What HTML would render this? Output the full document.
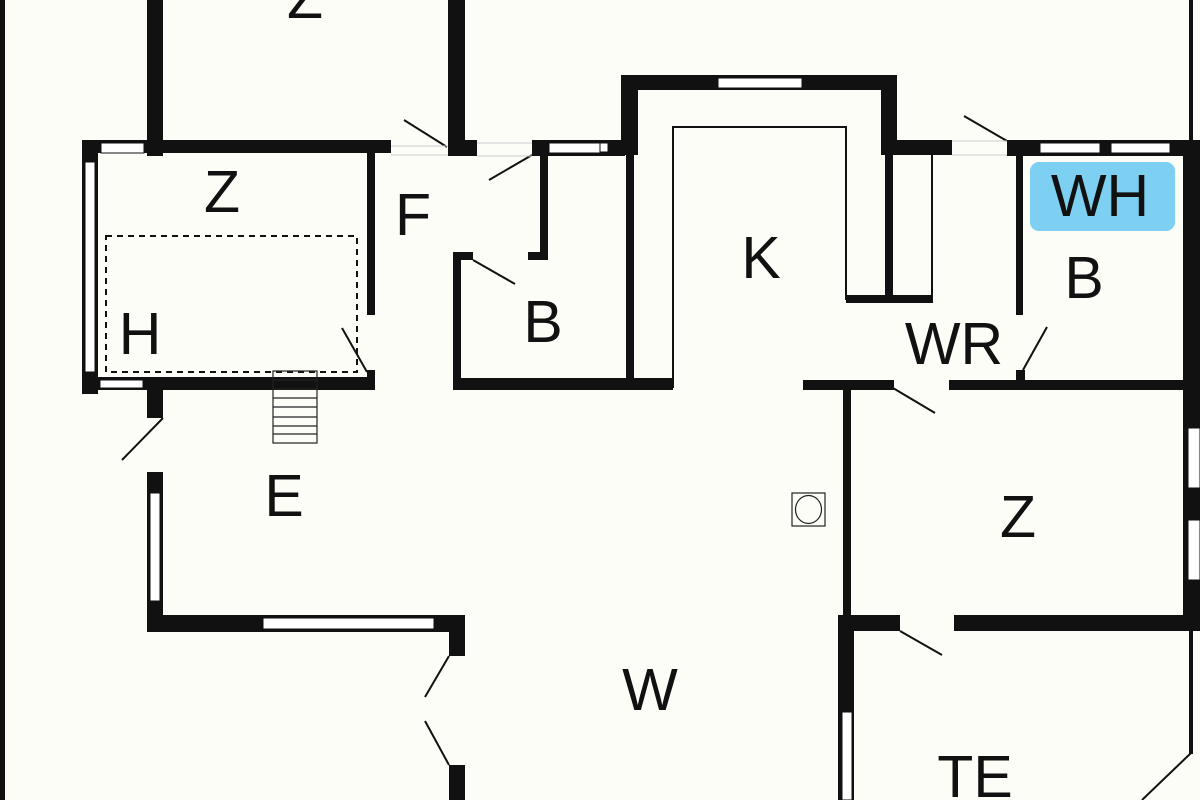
<!DOCTYPE html>
<html><head><meta charset="utf-8"><style>
html,body{margin:0;padding:0;background:#fdfdf8;}
svg{display:block;}
text{font-family:"Liberation Sans",sans-serif;font-size:59px;fill:#111;text-anchor:middle;}
</style></head><body>
<svg width="1200" height="800" viewBox="0 0 1200 800" xmlns="http://www.w3.org/2000/svg">
<rect width="1200" height="800" fill="#fdfdf8"/>
<g fill="#111">
<!-- left border -->
<rect x="0" y="0" width="5" height="800"/>
<!-- top Z room -->
<rect x="147" y="0" width="16" height="156"/>
<rect x="448" y="0" width="17" height="156"/>
<rect x="448" y="140" width="29" height="16"/>
<!-- lower Z box -->
<rect x="82" y="140" width="309" height="13"/>
<rect x="82" y="140" width="16" height="254"/>
<rect x="367" y="150" width="8" height="165"/>
<rect x="367" y="370" width="8" height="20"/>
<rect x="82" y="377" width="293" height="13"/>
<rect x="147" y="377" width="16" height="41"/>
<!-- E west wall -->
<rect x="147" y="472" width="16" height="160"/>
<rect x="147" y="615" width="318" height="17"/>
<rect x="449" y="615" width="16" height="41"/>
<rect x="449" y="765" width="16" height="35"/>
<!-- F/B walls -->
<rect x="532" y="140" width="93" height="16"/>
<rect x="540" y="140" width="8" height="120"/>
<rect x="528" y="252" width="20" height="8"/>
<rect x="453" y="252" width="8" height="138"/>
<rect x="453" y="252" width="20" height="8"/>
<rect x="453" y="378" width="220" height="12"/>
<!-- K -->
<rect x="600" y="140" width="38" height="15"/>
<rect x="621" y="75" width="276" height="15"/>
<rect x="621" y="75" width="17" height="80"/>
<rect x="626" y="150" width="8" height="240"/>
<rect x="881" y="75" width="16" height="80"/>
<rect x="881" y="140" width="71" height="15"/>
<rect x="885" y="150" width="8" height="150"/>
<rect x="846" y="295" width="87" height="8"/>
<!-- WH/B -->
<rect x="1007" y="140" width="193" height="16"/>
<rect x="1016" y="148" width="7" height="167"/>
<rect x="1016" y="370" width="9" height="15"/>
<rect x="1183" y="140" width="17" height="491"/>
<rect x="1189" y="0" width="4" height="140"/>
<!-- WR bottom wall -->
<rect x="803" y="380" width="91" height="10"/>
<rect x="949" y="380" width="251" height="10"/>
<rect x="843" y="385" width="8" height="245"/>
<rect x="838" y="615" width="62" height="16"/>
<rect x="954" y="615" width="246" height="16"/>
<rect x="838" y="615" width="16" height="185"/>
<rect x="1189" y="630" width="4" height="124"/>
</g>
<!-- windows -->
<g fill="#fff" stroke="#111" stroke-width="1">
<rect x="101" y="143" width="43" height="10"/>
<rect x="85" y="162" width="10" height="210"/>
<rect x="100" y="380" width="43" height="8"/>
<rect x="150" y="493" width="10" height="108"/>
<rect x="263" y="618" width="171" height="11"/>
<rect x="718" y="78" width="84" height="10"/>
<rect x="549" y="143" width="60" height="10"/>
<rect x="600" y="143" width="8" height="9"/>
<rect x="1040" y="143" width="60" height="10"/>
<rect x="1111" y="143" width="59" height="10"/>
<rect x="1188" y="428" width="12" height="60"/>
<rect x="1188" y="520" width="12" height="60"/>
<rect x="842" y="712" width="10" height="88"/>
</g>
<!-- thin lines -->
<g fill="none" stroke="#111" stroke-width="2">
<polyline points="673,388 673,127 846,127 846,300"/>
<line x1="932" y1="155" x2="932" y2="300"/>
<line x1="1191" y1="753" x2="1142" y2="800"/>
<line x1="404" y1="120" x2="447" y2="147"/>
<line x1="489" y1="180" x2="532" y2="155"/>
<line x1="473" y1="260" x2="515" y2="284"/>
<line x1="342" y1="328" x2="367" y2="372"/>
<line x1="163" y1="418" x2="122" y2="460"/>
<line x1="449" y1="656" x2="425" y2="697"/>
<line x1="425" y1="721" x2="449" y2="765"/>
<line x1="964" y1="116" x2="1007" y2="141"/>
<line x1="1023" y1="370" x2="1047" y2="327"/>
<line x1="893" y1="388" x2="935" y2="413"/>
<line x1="900" y1="631" x2="942" y2="655"/>
</g>
<g stroke="#ccc" stroke-width="1">
<line x1="391" y1="146" x2="448" y2="146"/><line x1="391" y1="155" x2="448" y2="155"/>
<line x1="477" y1="143" x2="532" y2="143"/><line x1="477" y1="156" x2="532" y2="156"/>
<line x1="952" y1="141" x2="1007" y2="141"/><line x1="952" y1="155" x2="1007" y2="155"/>
</g>
<rect x="106" y="236" width="251" height="136" fill="none" stroke="#111" stroke-width="2" stroke-dasharray="6,5"/>
<!-- stairs -->
<g fill="none" stroke="#222" stroke-width="1.2">
<rect x="273" y="371" width="44" height="72"/>
<line x1="273" y1="380" x2="317" y2="380"/><line x1="273" y1="389" x2="317" y2="389"/>
<line x1="273" y1="398" x2="317" y2="398"/><line x1="273" y1="407" x2="317" y2="407"/>
<line x1="273" y1="417" x2="317" y2="417"/><line x1="273" y1="426" x2="317" y2="426"/>
<line x1="273" y1="434" x2="317" y2="434"/>
<rect x="792" y="493" width="33" height="33"/>
<ellipse cx="808.5" cy="509.5" rx="13" ry="14"/>
</g>
<rect x="1030" y="162" width="145" height="69" rx="9" fill="#7dd0f2"/>
<text x="305" y="18">Z</text>
<text x="222" y="212">Z</text>
<text x="413" y="235">F</text>
<text x="140" y="354">H</text>
<text x="543" y="342">B</text>
<text x="761" y="278">K</text>
<text x="954" y="364">WR</text>
<text x="1084" y="298">B</text>
<text x="1100" y="216">WH</text>
<text x="284" y="516">E</text>
<text x="1018" y="537">Z</text>
<text x="650" y="710">W</text>
<text x="975" y="797">TE</text>
</svg>
</body></html>
